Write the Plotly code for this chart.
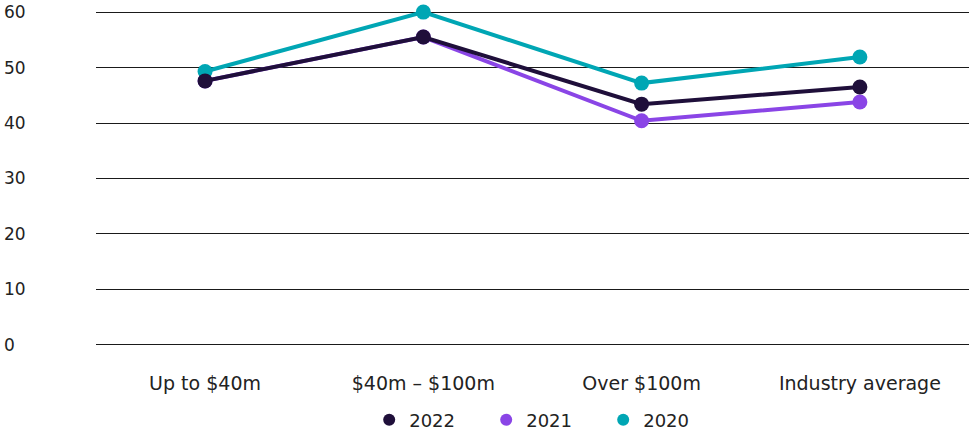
import plotly.graph_objects as go

categories = ["Up to $40m", "$40m – $100m", "Over $100m", "Industry average"]
years = ["2022", "2021", "2020"]
values_2022 = [47.6, 55.5, 43.4, 46.5]
values_2021 = [47.6, 55.5, 40.4, 43.8]
values_2020 = [49.3, 60.0, 47.2, 51.9]
colors = {"2022": "#1f0f3a", "2021": "#8a45e6", "2020": "#00a6b4"}
series = {"2022": values_2022, "2021": values_2021, "2020": values_2020}
y_ticks = [0, 10, 20, 30, 40, 50, 60]
y_range = [-2, 62]

FONT = "DejaVu Sans"
TEXT = "#222222"
fig = go.Figure()

# drawing order: 2021 bottom, 2020, 2022 top
for yr in ["2021", "2020", "2022"]:
    fig.add_trace(go.Scatter(
        x=categories, y=series[yr], mode="lines+markers", name=yr,
        line=dict(color=colors[yr], width=4),
        marker=dict(color=colors[yr], size=15),
        showlegend=False, cliponaxis=False,
    ))

# legend-only entries (dot only)
for i, yr in enumerate(years):
    fig.add_trace(go.Scatter(
        x=[None], y=[None], mode="markers", name=yr,
        marker=dict(color=colors[yr], size=12),
        yaxis="y2", legendrank=i + 1,
    ))

fig.update_layout(
    width=969, height=430,
    margin=dict(l=0, r=0, t=1, b=74, autoexpand=False),
    paper_bgcolor="white", plot_bgcolor="white",
    font=dict(family=FONT, size=17, color=TEXT),
    xaxis=dict(
        domain=[0.099, 1], range=[-0.5, 3.5], showgrid=False,
        showline=False, zeroline=False, ticks="",
        tickfont=dict(size=19, color=TEXT), ticklabelstandoff=14,
    ),
    yaxis=dict(
        range=y_range, tickvals=y_ticks, showticklabels=False,
        showgrid=True, gridcolor="#1a1a1a", gridwidth=1,
        zeroline=False, showline=False, ticks="",
    ),
    yaxis2=dict(
        overlaying="y", anchor="free", position=0, side="left",
        range=y_range, tickvals=y_ticks, showgrid=False, zeroline=False,
        showline=False, ticks="", ticklabelposition="inside",
        tickfont=dict(size=17, color=TEXT),
    ),
    legend=dict(
        orientation="h", xref="container", x=0.381, xanchor="left",
        yref="container", y=0.023, yanchor="middle",
        font=dict(size=18, color=TEXT), itemwidth=30, entrywidth=72,
        entrywidthmode="pixels", traceorder="normal",
    ),
    showlegend=True,
)

fig.write_html("out.html")
